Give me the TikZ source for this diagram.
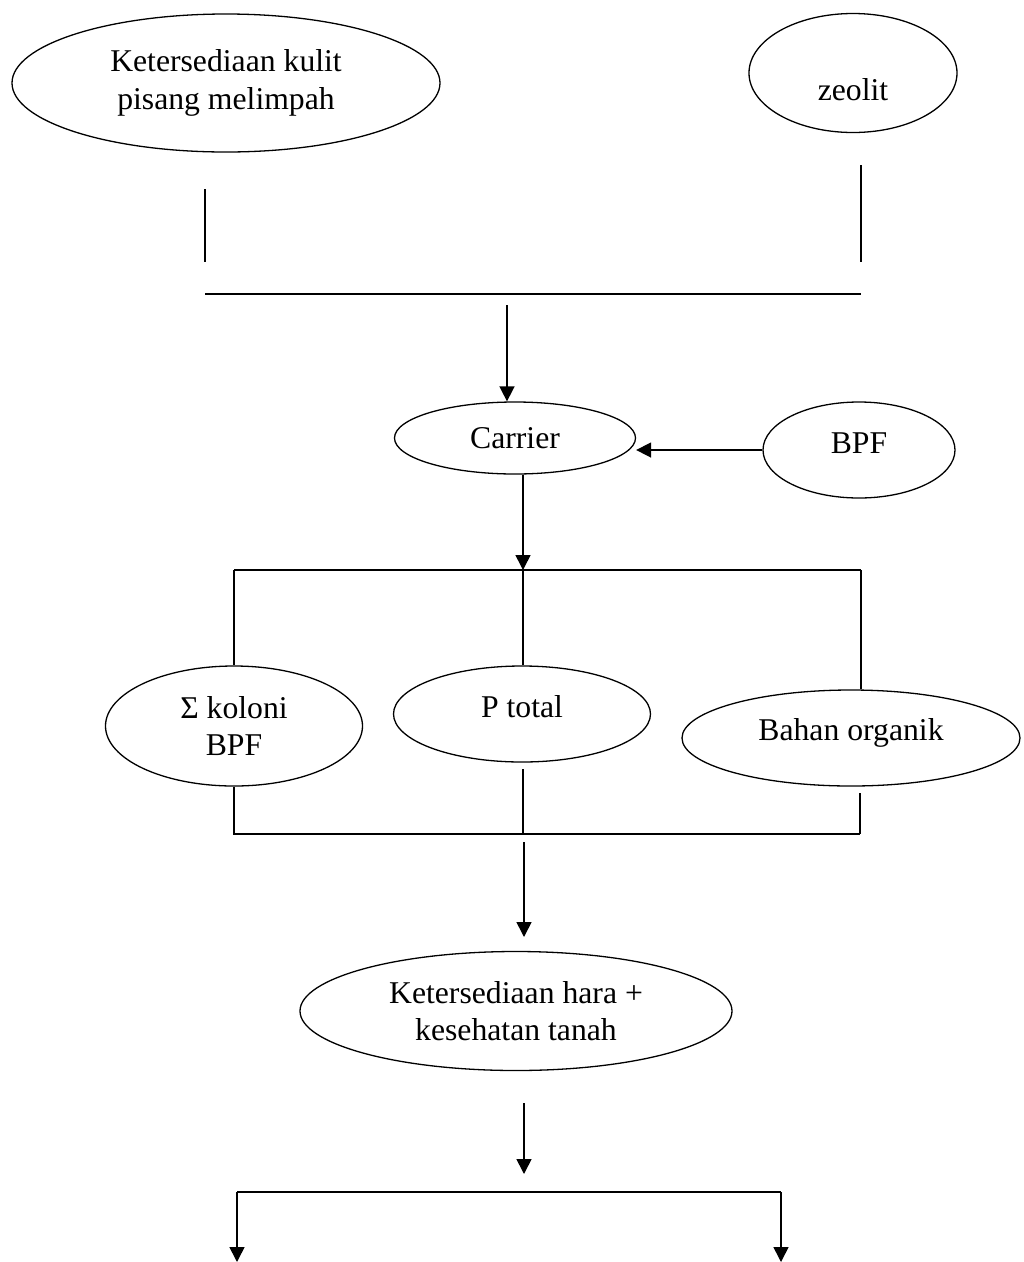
\documentclass[tikz,border=0pt]{standalone}
\usepackage{fontspec}
\setmainfont{Liberation Serif}
\usetikzlibrary{shapes.geometric,arrows.meta}
\newcommand\bline[2]{\raisebox{#1}[0pt][0pt]{#2}}
\begin{document}
\begin{tikzpicture}[x=1pt,y=-1pt,
  oval/.style={ellipse,draw,line width=1.3pt,inner sep=0pt,align=center,
    font=\fontsize{31.7pt}{37.5pt}\selectfont},
  ln/.style={line width=1.6pt},
  arr/.style={line width=1.6pt,-{Triangle[length=15pt,width=15pt]}}]
\useasboundingbox[fill=white] (0,0) rectangle (1024,1262);
% nodes
\node[oval,minimum width=428pt,minimum height=138pt] (kulit) at (226,83) {Ketersediaan kulit\\pisang melimpah};
\node[oval,minimum width=208pt,minimum height=119pt] (zeo) at (853,73) {\bline{-27pt}{zeolit}};
\node[oval,minimum width=241pt,minimum height=72pt] (carrier) at (515,438) {\bline{-10pt}{Carrier}};
\node[oval,minimum width=192pt,minimum height=96pt] (bpf) at (859,450) {\bline{-3pt}{BPF}};
\node[oval,minimum width=257pt,minimum height=120pt] (sigma) at (234,726) {Σ koloni\\BPF};
\node[oval,minimum width=257pt,minimum height=96pt] (ptot) at (522,714) {\bline{-3pt}{P total}};
\node[oval,minimum width=338pt,minimum height=96pt] (bahan) at (851,738) {\bline{-2pt}{Bahan organik}};
\node[oval,minimum width=432pt,minimum height=119pt] (hara) at (516,1011) {Ketersediaan hara +\\kesehatan tanah};
% coordinates
\coordinate (l1) at (205,189); \coordinate (l2) at (205,262);
\coordinate (r1) at (861,165); \coordinate (r2) at (861,262);
\coordinate (h1) at (205,294); \coordinate (h2) at (861,294);
\coordinate (a1) at (507,305);
\coordinate (tl) at (234,570); \coordinate (tm) at (523,570); \coordinate (tr) at (861,570);
\coordinate (pv) at (523,769); \coordinate (bv) at (860,793);
\coordinate (bl) at (234,834); \coordinate (bm) at (523,834); \coordinate (br) at (860,834);
\coordinate (c1) at (524,842); \coordinate (c2) at (524,937);
\coordinate (d1) at (524,1103); \coordinate (d2) at (524,1174);
\coordinate (el) at (237,1192); \coordinate (er) at (781,1192);
\coordinate (fl) at (237,1262); \coordinate (fr) at (781,1262);
% top
\draw[ln] (l1) -- (l2);
\draw[ln] (r1) -- (r2);
\draw[ln] (h1) -- (h2);
\draw[arr] (a1) -- (a1 |- carrier.north);
\draw[arr] (bpf.west) -- (bpf.west -| carrier.east);
\draw[arr] (carrier.south -| tm) -- (tm);
% middle bracket
\draw[ln] (tl) -- (tr);
\draw[ln] (tl) -- (sigma.north);
\draw[ln] (tm) -- (ptot.north -| tm);
\draw[ln] (tr) -- (tr |- bahan.north);
\draw[ln] (sigma.south) -- (bl) -- (br);
\draw[ln] (pv) -- (bm);
\draw[ln] (bv) -- (br);
% bottom
\draw[arr] (c1) -- (c2);
\draw[arr] (d1) -- (d2);
\draw[ln] (el) -- (er);
\draw[arr] (el) -- (fl);
\draw[arr] (er) -- (fr);
\end{tikzpicture}
\end{document}
